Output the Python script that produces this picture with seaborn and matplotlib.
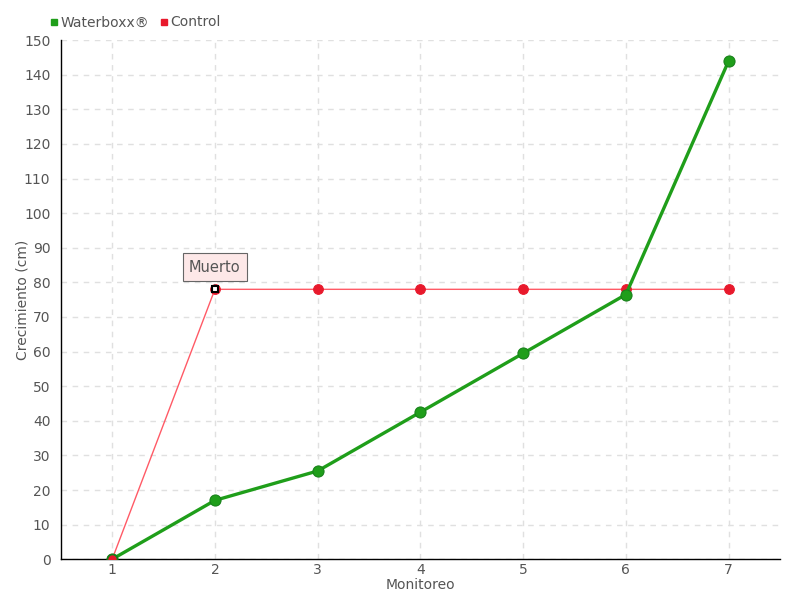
import numpy as np
import pandas as pd
import seaborn as sns
from matplotlib import pyplot as plt
from matplotlib.lines import Line2D

# Data
monitoreo = [1, 2, 3, 4, 5, 6, 7]
waterboxx = [0, 17, 25.5, 42.5, 59.5, 76.5, 144]
control = [0, 78, 78, 78, 78, 78, 78]

df = pd.DataFrame({
    'Monitoreo': monitoreo * 2,
    'Crecimiento': waterboxx + control,
    'Serie': ['Waterboxx®'] * len(monitoreo) + ['Control'] * len(monitoreo),
})

sns.set_style('white')
plt.rcParams['font.family'] = ['DejaVu Sans']
text_color = '#555555'

fig = plt.figure(figsize=(8, 6), dpi=100)
ax = fig.add_axes([0.076, 0.068, 0.899, 0.865])

green = '#1f9e1a'
red = '#e8192c'

sns.lineplot(data=df[df['Serie'] == 'Control'], x='Monitoreo', y='Crecimiento',
             color='#ff5a66', linewidth=1, marker='o', markersize=7,
             markerfacecolor=red, markeredgecolor=red, ax=ax, zorder=3)
sns.lineplot(data=df[df['Serie'] == 'Waterboxx®'], x='Monitoreo', y='Crecimiento',
             color=green, linewidth=2.4, marker='o', markersize=8,
             markerfacecolor=green, markeredgecolor='#17801a', ax=ax, zorder=4)
# first control point drawn on top
ax.plot(monitoreo[0], control[0], 'o', color=red, markersize=7,
        markeredgecolor='#17801a', zorder=5)
# dead plant marker
ax.plot(monitoreo[1], control[1], 's', markersize=5, markerfacecolor='white',
        markeredgecolor='black', markeredgewidth=1.5, zorder=6)

ax.annotate('Muerto', xy=(monitoreo[1], control[1]), xytext=(0, 16),
            textcoords='offset points', ha='center', va='center',
            fontsize=10.5, color=text_color,
            bbox=dict(boxstyle='square,pad=0.45', fc='#fde8e8', ec='#666666', lw=0.8),
            arrowprops=dict(arrowstyle='-', color='#666666', lw=0.8))

ax.set_xlim(0.5, 7.5)
ax.set_ylim(0, 150)
ax.set_xticks(monitoreo)
ax.set_yticks(np.arange(0, 151, 10))
ax.grid(True, color='#e0e0e0', linestyle=(0, (4, 4)), linewidth=1)
sns.despine(ax=ax)
for side in ['left', 'bottom']:
    ax.spines[side].set_color('black')
    ax.spines[side].set_linewidth(1)
ax.tick_params(axis='both', colors='black', labelcolor=text_color, labelsize=10,
               direction='out', length=4, width=1)
ax.tick_params(axis='x', length=0, pad=3)

ax.set_xlabel('Monitoreo', color=text_color, fontsize=10)
ax.set_ylabel('Crecimiento (cm)', color=text_color, fontsize=10)
ax.xaxis.set_label_coords(0.5, -0.036)
ax.yaxis.set_label_coords(-0.043, 0.5)

handles = [Line2D([], [], marker='s', linestyle='', color=green, markersize=5),
           Line2D([], [], marker='s', linestyle='', color=red, markersize=5)]
fig.legend(handles, ['Waterboxx®', 'Control'], loc='upper left',
           bbox_to_anchor=(0.045, 0.995), ncol=2, frameon=False, fontsize=10,
           handletextpad=0.1, columnspacing=0.6, labelcolor=text_color,
           handlelength=0.8)

fig.savefig('out.png', dpi=100)
